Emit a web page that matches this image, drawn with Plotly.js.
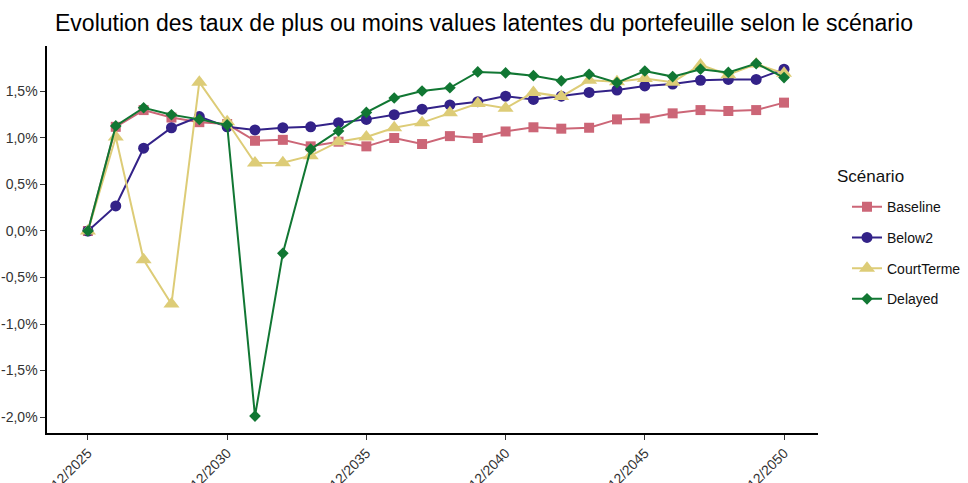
<!DOCTYPE html>
<html>
<head>
<meta charset="utf-8">
<script src="https://cdn.plot.ly/plotly-3.0.1.min.js"></script>
<style>html,body{margin:0;padding:0;background:#fff;}#chart{width:968px;height:483px;}</style>
</head>
<body>
<div id="chart"></div>
<script>
const years = [2025,2026,2027,2028,2029,2030,2031,2032,2033,2034,2035,2036,2037,2038,2039,2040,2041,2042,2043,2044,2045,2046,2047,2048,2049,2050];
const baseline = [0.00,1.12,1.30,1.22,1.17,1.15,0.97,0.98,0.91,0.96,0.91,1.00,0.935,1.02,1.00,1.07,1.115,1.10,1.11,1.20,1.21,1.265,1.30,1.29,1.30,1.38];
const below2 = [0.00,0.27,0.89,1.11,1.23,1.12,1.086,1.11,1.12,1.165,1.20,1.25,1.31,1.355,1.39,1.45,1.415,1.45,1.49,1.516,1.56,1.58,1.62,1.63,1.63,1.74];
const courtTerme = [0.00,1.01,-0.31,-0.785,1.60,1.175,0.73,0.735,0.81,0.96,1.01,1.11,1.165,1.27,1.37,1.32,1.49,1.445,1.62,1.605,1.64,1.60,1.785,1.68,1.795,1.695];
const delayed = [0.00,1.13,1.325,1.25,1.20,1.14,-1.99,-0.24,0.88,1.075,1.275,1.43,1.505,1.54,1.71,1.70,1.67,1.615,1.685,1.595,1.72,1.66,1.74,1.705,1.80,1.65];
const xTickVals = [2025,2030,2035,2040,2045,2050];
const xTickText = ["12/2025","12/2030","12/2035","12/2040","12/2045","12/2050"];
const yTickVals = [-2,-1.5,-1,-0.5,0,0.5,1,1.5];
const yTickText = ["-2,0%","-1,5%","-1,0%","-0,5%","0,0%","0,5%","1,0%","1,5%"];

const names = ["Baseline","Below2","CourtTerme","Delayed"];
const series = [baseline, below2, courtTerme, delayed];
const colors = ["#CC6677","#332288","#DDCC77","#117733"];
const symbols = ["square","circle","triangle-up","diamond"];
const sizes = [10,11,14,9];

const traces = names.map((n,i)=>({
  x: years, y: series[i], name: n, type: "scatter", mode: "lines+markers",
  legendgroup: n,
  line: {color: colors[i], width: 2},
  marker: {color: colors[i], symbol: symbols[i], size: sizes[i]}
}));

const layout = {
  width: 968, height: 483,
  margin: {l: 47, r: 150, t: 46, b: 50, autoexpand: false},
  paper_bgcolor: "#fff", plot_bgcolor: "#fff",
  font: {family: "Liberation Sans, Arial, sans-serif", color: "#333"},
  title: {text: "Evolution des taux de plus ou moins values latentes du portefeuille selon le scénario",
          x: 55/968, xanchor: "left", y: 1-23/483, yanchor: "middle",
          font: {size: 23, color: "#000"}},
  xaxis: {range: [2023.53, 2051.22], tickvals: xTickVals, ticktext: xTickText,
          tickangle: -45, showgrid: false, zeroline: false, showline: true,
          linecolor: "#000", linewidth: 1.6, ticks: "outside", ticklen: 5, tickcolor: "#333",
          tickfont: {size: 14, color: "#333"}, automargin: false},
  yaxis: {range: [-2.172, 1.989], tickvals: yTickVals, ticktext: yTickText,
          showgrid: false, zeroline: false, showline: true,
          linecolor: "#000", linewidth: 1.6, ticks: "outside", ticklen: 5, tickcolor: "#333",
          tickfont: {size: 14, color: "#333"}, automargin: false},
  showlegend: true,
  legend: {x: (847-47)/771, xanchor: "left", y: 0.625, yanchor: "top",
           traceorder: "grouped", tracegroupgap: 9.5,
           font: {size: 14, color: "#111"}, bgcolor: "rgba(0,0,0,0)"},
  annotations: [{text: "Scénario", xref: "paper", yref: "paper",
                 x: (835-47)/771, xanchor: "left", y: 1-(176-46)/387, yanchor: "middle",
                 showarrow: false, font: {size: 17, color: "#111"}}]
};

Plotly.newPlot("chart", traces, layout, {displayModeBar: false, staticPlot: true});
</script>
</body>
</html>
